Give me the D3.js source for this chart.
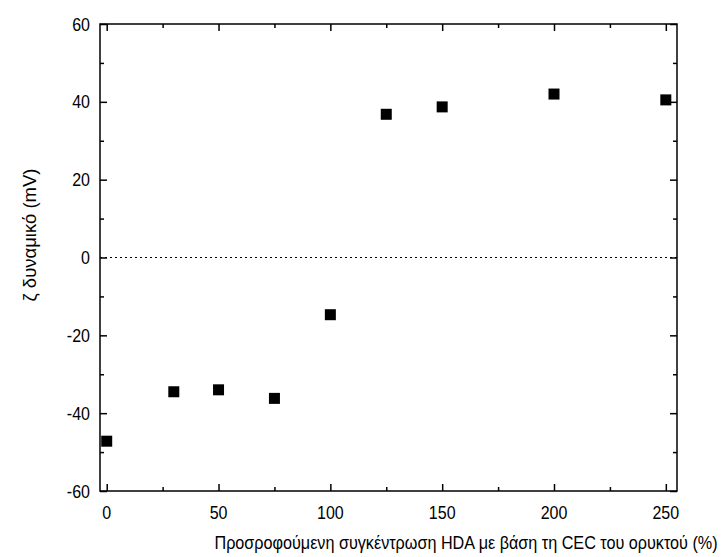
<!DOCTYPE html>
<html>
<head>
<meta charset="utf-8">
<script src="https://cdn.jsdelivr.net/npm/d3@7"></script>
<style>
  body { margin: 0; background: #fff; }
  text { font-family: "Liberation Sans", Arial, sans-serif; fill: #000; }
</style>
</head>
<body>
<div id="chart"></div>
<script>
// δεδομένα
var hdaConc = [0, 30, 50, 75, 100, 125, 150, 200, 250];
var zeta = [-47.2, -34.5, -34.0, -36.2, -14.7, 36.8, 38.7, 42.0, 40.5];
var xTicks = [0, 50, 100, 150, 200, 250];
var yTicks = [-60, -40, -20, 0, 20, 40, 60];
var xLabel = "Προσροφούμενη συγκέντρωση HDA με βάση τη CEC του ορυκτού (%)";
var yLabel = "ζ δυναμικό (mV)";

var width = 726, height = 557;
// (το "top" είναι δεσμευμένο στο window, γι' αυτό pLeft/pTop κλπ)
var pLeft = 100, pRight = 677, pTop = 24, pBottom = 491;
var squeeze = 0.87; // τα γράμματα είναι λίγο στενότερα στο πρωτότυπο

var x = d3.scaleLinear().domain([-3, 255]).range([pLeft, pRight]);
var y = d3.scaleLinear().domain([-60, 60]).range([pBottom, pTop]);

var svg = d3.select('#chart').append('svg')
  .attr('width', width)
  .attr('height', height);

// γραμμή μηδέν
svg.append('line')
  .attr('x1', pLeft).attr('x2', pRight)
  .attr('y1', y(0)).attr('y2', y(0))
  .attr('stroke', '#000')
  .attr('stroke-width', 1)
  .attr('stroke-dasharray', '2,3');

// άξονες (ticks προς τα μέσα)
function tickAxis(axis, scale, values, size) {
  return axis(scale).tickValues(values).tickSizeInner(size).tickSizeOuter(0).tickFormat('');
}
var xMinor = d3.range(25, 255, 50);
var yMinor = d3.range(-50, 60, 20);

var axes = [
  [d3.axisTop, x, xTicks, 7, 'translate(0,' + pBottom + ')'],
  [d3.axisTop, x, xMinor, 4, 'translate(0,' + pBottom + ')'],
  [d3.axisBottom, x, xTicks, 7, 'translate(0,' + pTop + ')'],
  [d3.axisBottom, x, xMinor, 4, 'translate(0,' + pTop + ')'],
  [d3.axisRight, y, yTicks, 7, 'translate(' + pLeft + ',0)'],
  [d3.axisRight, y, yMinor, 4, 'translate(' + pLeft + ',0)'],
  [d3.axisLeft, y, yTicks, 7, 'translate(' + pRight + ',0)'],
  [d3.axisLeft, y, yMinor, 4, 'translate(' + pRight + ',0)']
];
axes.forEach(function (a) {
  var g = svg.append('g').attr('transform', a[4]).call(tickAxis(a[0], a[1], a[2], a[3]));
  g.select('.domain').remove();
  g.selectAll('line').attr('stroke', '#000').attr('stroke-width', 1.5);
});

// πλαίσιο
svg.append('rect')
  .attr('x', pLeft).attr('y', pTop)
  .attr('width', pRight - pLeft).attr('height', pBottom - pTop)
  .attr('fill', 'none')
  .attr('stroke', '#000')
  .attr('stroke-width', 1.5);

// ετικέτες
svg.selectAll('text.xt')
  .data(xTicks)
  .enter().append('text')
  .attr('class', 'xt')
  .attr('transform', function (d) { return 'translate(' + x(d) + ',519) scale(' + squeeze + ',1)'; })
  .attr('text-anchor', 'middle')
  .attr('font-size', 18.4)
  .text(function (d) { return d; });

svg.selectAll('text.yt')
  .data(yTicks)
  .enter().append('text')
  .attr('class', 'yt')
  .attr('transform', function (d) { return 'translate(90,' + (y(d) + 6.5) + ') scale(' + squeeze + ',1)'; })
  .attr('text-anchor', 'end')
  .attr('font-size', 18.4)
  .text(function (d) { return d; });

svg.append('text')
  .attr('transform', 'translate(466,549) scale(' + squeeze + ',1)')
  .attr('text-anchor', 'middle')
  .attr('font-size', 18.6)
  .text(xLabel);

svg.append('text')
  .attr('transform', 'translate(36,235) rotate(-90)')
  .attr('text-anchor', 'middle')
  .attr('font-size', 18.5)
  .text(yLabel);

// σημεία
var pts = hdaConc.map(function (d, i) { return { c: d, z: zeta[i] }; });
svg.selectAll('rect.pt')
  .data(pts)
  .enter().append('rect')
  .attr('class', 'pt')
  .attr('x', function (d) { return x(d.c) - 5.5; })
  .attr('y', function (d) { return y(d.z) - 5.5; })
  .attr('width', 11)
  .attr('height', 11)
  .attr('fill', '#000');
</script>
</body>
</html>
